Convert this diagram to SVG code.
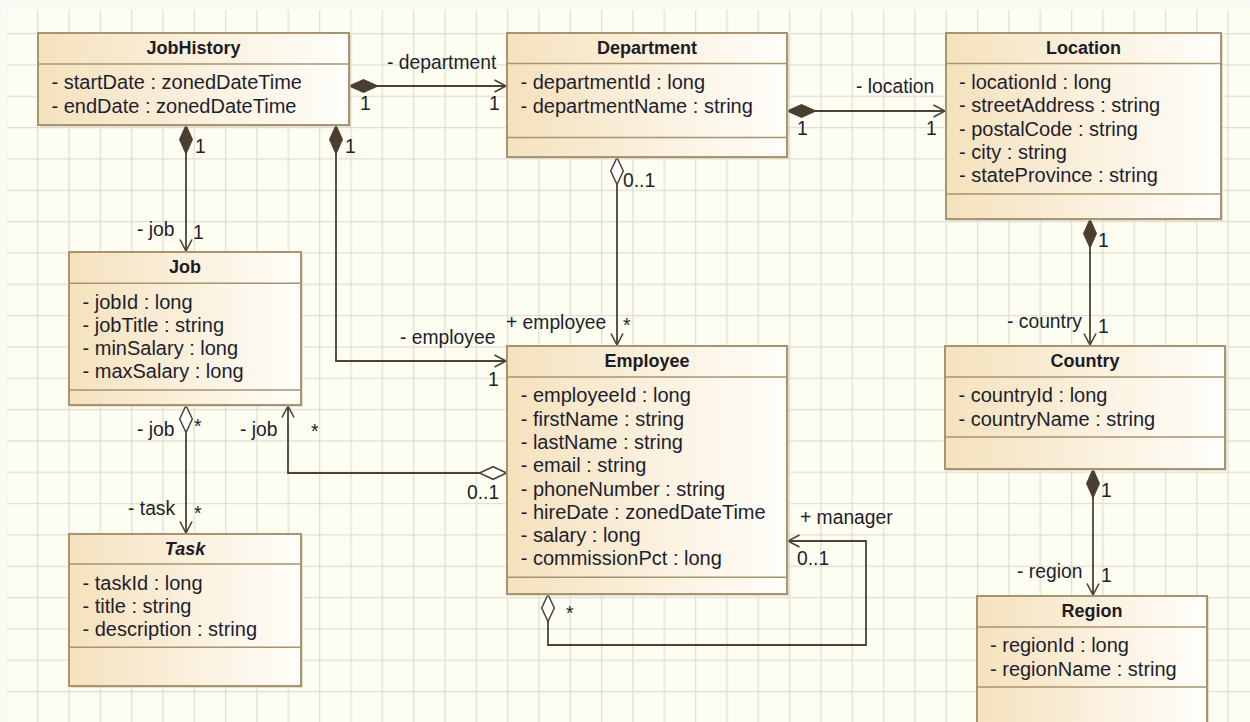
<svg xmlns="http://www.w3.org/2000/svg" width="1250" height="722" viewBox="0 0 1250 722">
  <defs>
    <pattern id="grid" x="5.67" y="1.67" width="31.33" height="31.33" patternUnits="userSpaceOnUse">
      <rect width="31.33" height="31.33" fill="#fdfdf1"/>
      <path d="M 0 0.5 H 31.33 M 0.5 0 V 31.33" stroke="#e0dfd5" stroke-width="1.6" fill="none"/>
    </pattern>
    <linearGradient id="boxFill" x1="0" y1="0" x2="1" y2="0">
      <stop offset="0" stop-color="#f5e1bd"/>
      <stop offset="1" stop-color="#fffefb"/>
    </linearGradient>
    <marker id="compDiamond" markerUnits="userSpaceOnUse" markerWidth="32" markerHeight="16" viewBox="-1 -8 32 16" refX="0" refY="0" orient="auto">
      <path d="M 0 0 L 14.5 -6.5 L 29 0 L 14.5 6.5 Z" fill="#4a3f2e" stroke="#4a3f2e" stroke-width="1"/>
    </marker>
    <marker id="aggDiamond" markerUnits="userSpaceOnUse" markerWidth="32" markerHeight="16" viewBox="-1 -8 32 16" refX="0" refY="0" orient="auto">
      <path d="M 0.5 0 L 14 -6.3 L 27.5 0 L 14 6.3 Z" fill="#ffffff" stroke="#4a4336" stroke-width="1.5"/>
    </marker>
    <marker id="openArrow" markerUnits="userSpaceOnUse" markerWidth="16" markerHeight="16" viewBox="-14 -8 16 16" refX="0" refY="0" orient="auto">
      <path d="M -11.5 -6 L 0 0 L -11.5 6" fill="none" stroke="#4a4336" stroke-width="1.6"/>
    </marker>
  </defs>
  <style>
    .box { fill: url(#boxFill); stroke: #a8946f; stroke-width: 2; }
    .shadow { fill: #cfc6b4; opacity: 0.55; }
    .sep { stroke: #a8946f; stroke-width: 1.6; fill: none; }
    .title { font-family: "Liberation Sans", Arial, sans-serif; font-size: 18px; font-weight: bold; fill: #1c1c24; text-anchor: middle; }
    .attr { font-family: "Liberation Sans", Arial, sans-serif; font-size: 20px; fill: #1e1e2c; }
    .lbl { font-family: "Liberation Sans", Arial, sans-serif; font-size: 19.3px; fill: #1e1e2c; }
    .conn { fill: none; stroke: #4a4336; stroke-width: 1.8; }
    .comp { marker-start: url(#compDiamond); marker-end: url(#openArrow); }
    .agg { marker-start: url(#aggDiamond); marker-end: url(#openArrow); }
  </style>

  <!-- canvas -->
  <rect width="1250" height="722" fill="#fbfbf6"/>
  <rect x="7" y="10" width="1243" height="712" fill="url(#grid)"/>

  <!-- associations -->
  <g id="connectors">
    <path class="conn comp" d="M 349 86 H 506"/>
    <path class="conn comp" d="M 787 111 H 945"/>
    <path class="conn comp" d="M 186 125 V 251"/>
    <path class="conn comp" d="M 336 125 V 361 H 506"/>
    <path class="conn agg" d="M 617 157 V 345"/>
    <path class="conn agg" d="M 507 473 H 288 V 406"/>
    <path class="conn agg" d="M 186 405 V 533"/>
    <path class="conn agg" d="M 548 594 V 645 H 866 V 541 H 788"/>
    <path class="conn comp" d="M 1090 219 V 345"/>
    <path class="conn comp" d="M 1093 469 V 595"/>

    <g class="lbl">
      <text x="387" y="69">- department</text>
      <text x="360" y="110">1</text>
      <text x="489" y="110">1</text>
      <text x="856" y="93">- location</text>
      <text x="797" y="135">1</text>
      <text x="926" y="135">1</text>
      <text x="195" y="153">1</text>
      <text x="345" y="153">1</text>
      <text x="137" y="236">- job</text>
      <text x="193" y="239">1</text>
      <text x="400" y="344">- employee</text>
      <text x="488" y="386">1</text>
      <text x="623" y="187">0..1</text>
      <text x="506" y="329">+ employee</text>
      <text x="623" y="332">*</text>
      <text x="240" y="436">- job</text>
      <text x="311" y="438">*</text>
      <text x="467" y="499">0..1</text>
      <text x="137" y="436">- job</text>
      <text x="194" y="433">*</text>
      <text x="128" y="515">- task</text>
      <text x="194" y="520">*</text>
      <text x="800" y="524">+ manager</text>
      <text x="797" y="565">0..1</text>
      <text x="566" y="620">*</text>
      <text x="1098" y="247">1</text>
      <text x="1007" y="328">- country</text>
      <text x="1098" y="333">1</text>
      <text x="1101" y="497">1</text>
      <text x="1017" y="578">- region</text>
      <text x="1101" y="582">1</text>
    </g>
  </g>

  <!-- classes -->
  <g id="JobHistory">
    <rect class="shadow" x="40" y="35" width="311" height="92"/>
    <rect class="box" x="38" y="33" width="311" height="92"/>
    <path class="sep" d="M 38 64 H 349"/>
    <text class="title" x="193.5" y="54">JobHistory</text>
    <text class="attr" x="51.5" y="89">- startDate : zonedDateTime</text>
    <text class="attr" x="51.5" y="112.5">- endDate : zonedDateTime</text>
  </g>

  <g id="Department">
    <rect class="shadow" x="509" y="35" width="280" height="124"/>
    <rect class="box" x="507" y="33" width="280" height="124"/>
    <path class="sep" d="M 507 63.5 H 787 M 507 137.5 H 787"/>
    <text class="title" x="647" y="54">Department</text>
    <text class="attr" x="520.5" y="89">- departmentId : long</text>
    <text class="attr" x="520.5" y="112.5">- departmentName : string</text>
  </g>

  <g id="Location">
    <rect class="shadow" x="948" y="35" width="275" height="186"/>
    <rect class="box" x="946" y="33" width="275" height="186"/>
    <path class="sep" d="M 946 63.5 H 1221 M 946 194 H 1221"/>
    <text class="title" x="1083.5" y="54">Location</text>
    <text class="attr" x="959" y="89">- locationId : long</text>
    <text class="attr" x="959" y="112.3">- streetAddress : string</text>
    <text class="attr" x="959" y="135.6">- postalCode : string</text>
    <text class="attr" x="959" y="158.9">- city : string</text>
    <text class="attr" x="959" y="182.2">- stateProvince : string</text>
  </g>

  <g id="Job">
    <rect class="shadow" x="71" y="254" width="232" height="153"/>
    <rect class="box" x="69" y="252" width="232" height="153"/>
    <path class="sep" d="M 69 283.3 H 301 M 69 390 H 301"/>
    <text class="title" x="185" y="273">Job</text>
    <text class="attr" x="82.5" y="308.5">- jobId : long</text>
    <text class="attr" x="82.5" y="331.8">- jobTitle : string</text>
    <text class="attr" x="82.5" y="355.1">- minSalary : long</text>
    <text class="attr" x="82.5" y="378.4">- maxSalary : long</text>
  </g>

  <g id="Employee">
    <rect class="shadow" x="509" y="348" width="280" height="248"/>
    <rect class="box" x="507" y="346" width="280" height="248"/>
    <path class="sep" d="M 507 377 H 787 M 507 577.3 H 787"/>
    <text class="title" x="647" y="367">Employee</text>
    <text class="attr" x="520.7" y="402.3">- employeeId : long</text>
    <text class="attr" x="520.7" y="425.6">- firstName : string</text>
    <text class="attr" x="520.7" y="448.9">- lastName : string</text>
    <text class="attr" x="520.7" y="472.2">- email : string</text>
    <text class="attr" x="520.7" y="495.5">- phoneNumber : string</text>
    <text class="attr" x="520.7" y="518.8">- hireDate : zonedDateTime</text>
    <text class="attr" x="520.7" y="542.1">- salary : long</text>
    <text class="attr" x="520.7" y="565.4">- commissionPct : long</text>
  </g>

  <g id="Task">
    <rect class="shadow" x="71" y="536" width="232" height="152"/>
    <rect class="box" x="69" y="534" width="232" height="152"/>
    <path class="sep" d="M 69 564 H 301 M 69 647.3 H 301"/>
    <text class="title" x="185" y="555" font-style="italic">Task</text>
    <text class="attr" x="82.5" y="589.5">- taskId : long</text>
    <text class="attr" x="82.5" y="612.8">- title : string</text>
    <text class="attr" x="82.5" y="636.1">- description : string</text>
  </g>

  <g id="Country">
    <rect class="shadow" x="947" y="348" width="280" height="123"/>
    <rect class="box" x="945" y="346" width="280" height="123"/>
    <path class="sep" d="M 945 377 H 1225 M 945 437 H 1225"/>
    <text class="title" x="1085" y="367">Country</text>
    <text class="attr" x="958.5" y="402.3">- countryId : long</text>
    <text class="attr" x="958.5" y="425.6">- countryName : string</text>
  </g>

  <g id="Region">
    <rect class="shadow" x="979" y="598" width="230" height="130"/>
    <rect class="box" x="977" y="596" width="230" height="130"/>
    <path class="sep" d="M 977 627 H 1207 M 977 687 H 1207"/>
    <text class="title" x="1092" y="617">Region</text>
    <text class="attr" x="990" y="652.3">- regionId : long</text>
    <text class="attr" x="990" y="675.6">- regionName : string</text>
  </g>
</svg>
